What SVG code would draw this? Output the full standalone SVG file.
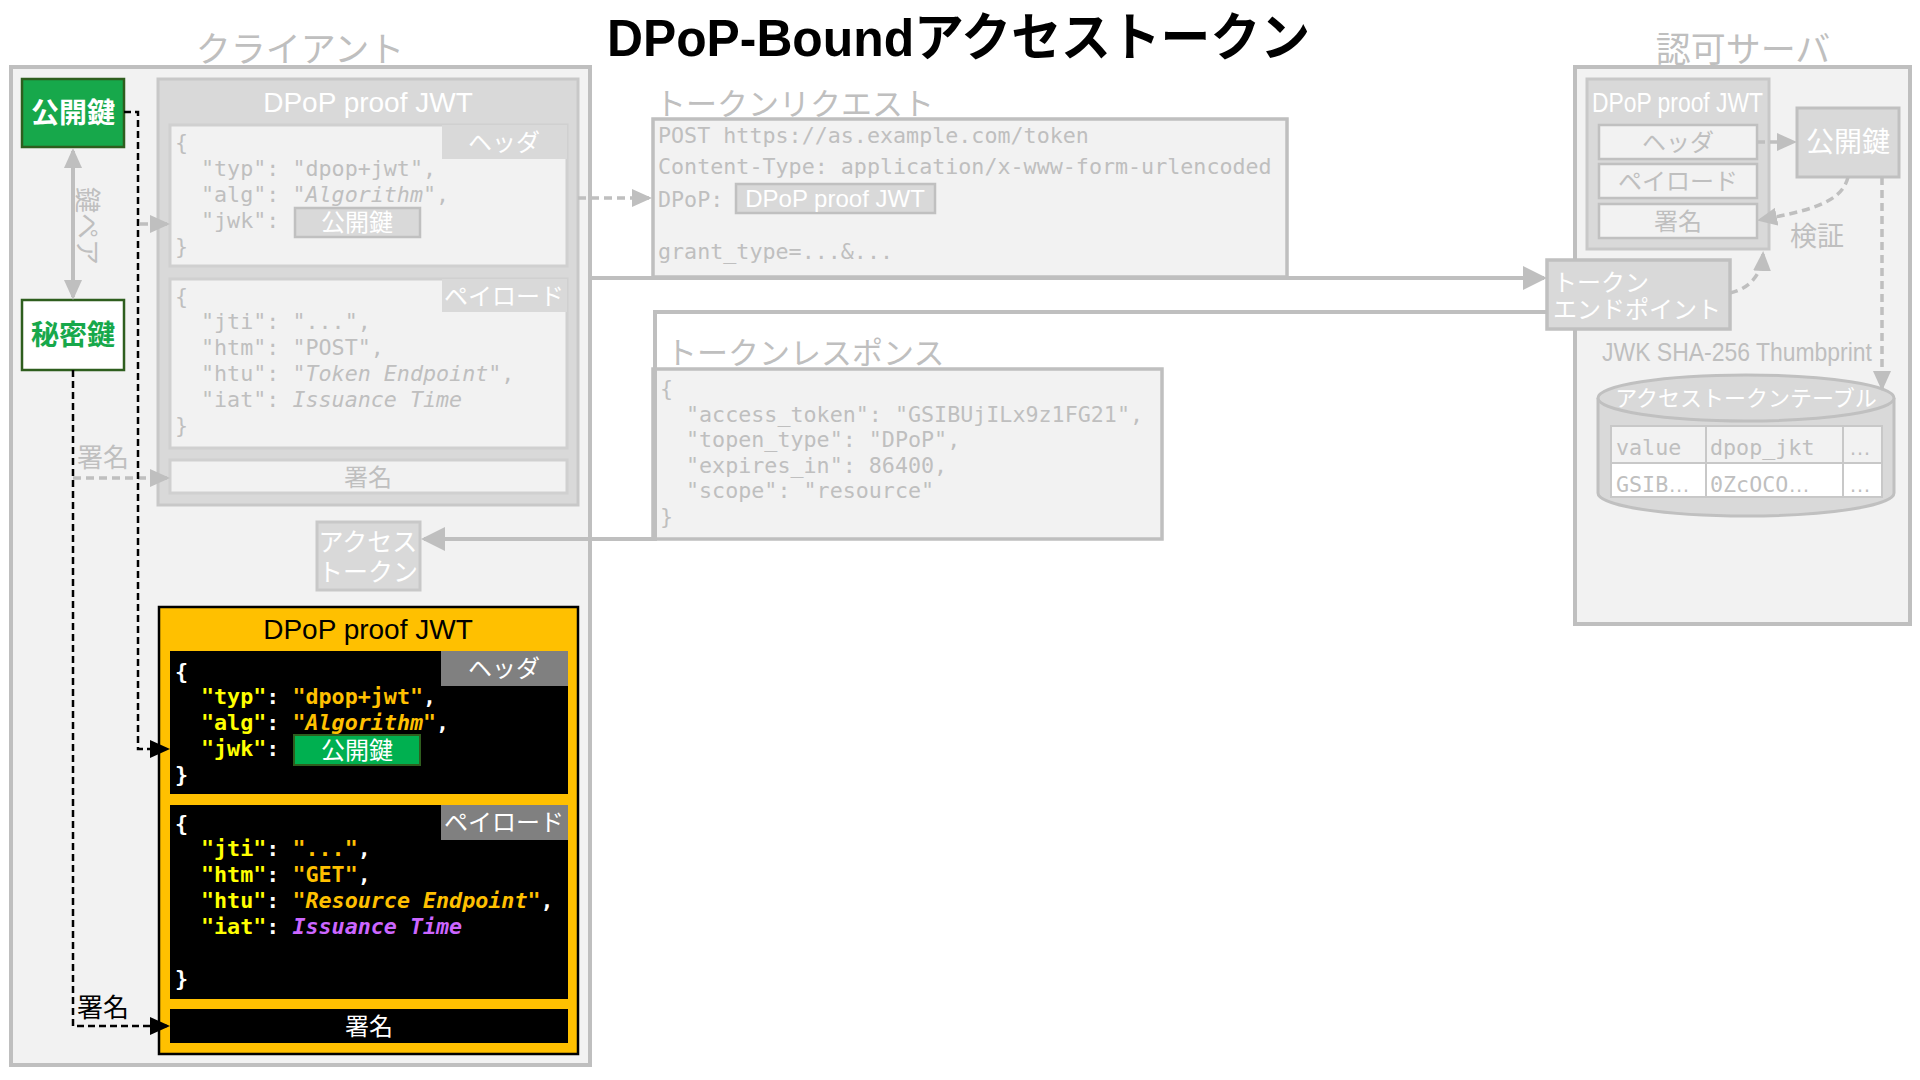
<svg xmlns="http://www.w3.org/2000/svg" width="1920" height="1080" viewBox="0 0 1920 1080">
<style>
.sans{font-family:"Liberation Sans","Noto Sans CJK JP",sans-serif}
.code{font-family:"DejaVu Sans Mono","Liberation Mono","Noto Sans CJK JP",monospace;font-size:21.7px}
.el{font-family:"Liberation Sans",sans-serif}
.gt{fill:#bfbfbf}
.wt{fill:#ffffff}
.it{font-style:italic}
.ky{fill:#ffff00}
.vl{fill:#ffc000}
.pu{fill:#cc66ff}
.mid{text-anchor:middle}
.frame{fill:#f2f2f2;stroke:#bfbfbf;stroke-width:4}
.gbox{fill:#d9d9d9;stroke:#c8c8c8;stroke-width:3}
.sec{fill:#f2f2f2;stroke:#d0d0d0;stroke-width:3}
.cg{fill:none;stroke:#bfbfbf;stroke-width:4}
.cgd{fill:none;stroke:#bfbfbf;stroke-width:3.5;stroke-dasharray:8 5}
.cb{fill:none;stroke:#000000;stroke-width:2.5;stroke-dasharray:7 4}
</style>
<defs>
<marker id="ag" viewBox="0 0 24 24" refX="21" refY="12" markerWidth="24" markerHeight="24" markerUnits="userSpaceOnUse" orient="auto"><path d="M0,0 L24,12 L0,24 Z" fill="#bfbfbf"/></marker>
<marker id="ags" viewBox="0 0 20 18" refX="17" refY="9" markerWidth="20" markerHeight="18" markerUnits="userSpaceOnUse" orient="auto-start-reverse"><path d="M0,0 L20,9 L0,18 Z" fill="#bfbfbf"/></marker>
<marker id="ab" viewBox="0 0 20 18" refX="17" refY="9" markerWidth="20" markerHeight="18" markerUnits="userSpaceOnUse" orient="auto"><path d="M0,0 L20,9 L0,18 Z" fill="#000000"/></marker>
</defs>
<rect width="1920" height="1080" fill="#ffffff"/>

<text id="title" class="sans" x="607" y="56" font-size="52" font-weight="bold" fill="#000000" textLength="703" lengthAdjust="spacingAndGlyphs">DPoP-Boundアクセストークン</text>

<!-- Client -->
<g id="client">
<text class="sans gt mid" x="300" y="62" font-size="35">クライアント</text>
<rect class="frame" x="11" y="67" width="579" height="998"/>
</g>

<g id="client-public-key">
<rect x="22" y="79" width="102" height="68" fill="#17a84b" stroke="#2e5e1e" stroke-width="2.5"/>
<text class="sans wt mid" x="73" y="123" font-size="28" font-weight="bold">公開鍵</text>
</g>

<g id="client-private-key">
<rect x="22" y="300" width="102" height="70" fill="#ffffff" stroke="#2e5e1e" stroke-width="2.5"/>
<text class="sans mid" x="73" y="345" font-size="28" font-weight="bold" fill="#17a84b">秘密鍵</text>
</g>

<g id="client-jwt-old">
<rect class="gbox" x="158" y="79" width="420" height="426"/>
<text class="sans wt mid" x="368" y="112" font-size="28">DPoP proof JWT</text>
<rect class="sec" x="170" y="125" width="397" height="141"/>
<rect x="442" y="125" width="125" height="34" fill="#d9d9d9"/>
<text class="sans wt mid" x="504" y="151" font-size="24">ヘッダ</text>
<text class="code gt" x="175" y="150">{</text>
<text class="code gt" x="201" y="176" xml:space="preserve">"typ": "dpop+jwt",</text>
<text class="code gt" x="201" y="202" xml:space="preserve">"alg": "<tspan class="it">Algorithm</tspan>",</text>
<text class="code gt" x="201" y="228" xml:space="preserve">"jwk":</text>
<text class="code gt" x="175" y="254">}</text>
<rect x="295" y="208" width="125" height="29" fill="#d9d9d9" stroke="#c0c0c0" stroke-width="2.5"/>
<text class="sans wt mid" x="357" y="231" font-size="24">公開鍵</text>
<rect class="sec" x="170" y="279" width="397" height="169"/>
<rect x="442" y="279" width="125" height="33" fill="#d9d9d9"/>
<text class="sans wt mid" x="504" y="305" font-size="24">ペイロード</text>
<text class="code gt" x="175" y="304">{</text>
<text class="code gt" x="201" y="329" xml:space="preserve">"jti": "...",</text>
<text class="code gt" x="201" y="355" xml:space="preserve">"htm": "POST",</text>
<text class="code gt" x="201" y="381" xml:space="preserve">"htu": "<tspan class="it">Token Endpoint</tspan>",</text>
<text class="code gt" x="201" y="407" xml:space="preserve">"iat": <tspan class="it">Issuance Time</tspan></text>
<text class="code gt" x="175" y="433">}</text>
<rect class="sec" x="170" y="460" width="397" height="33"/>
<text class="sans gt mid" x="368" y="486" font-size="24">署名</text>
</g>

<g id="client-access-token">
<rect class="gbox" x="317" y="522" width="103" height="68"/>
<text class="sans wt mid" x="368" y="551" font-size="25">アクセス</text>
<text class="sans wt mid" x="368" y="581" font-size="25">トークン</text>
</g>

<g id="client-jwt-new">
<rect x="159" y="607" width="419" height="447" fill="#ffc000" stroke="#000000" stroke-width="2.5"/>
<text class="sans mid" x="368" y="639" font-size="28" fill="#000000">DPoP proof JWT</text>
<rect x="170" y="651" width="398" height="143" fill="#000000"/>
<rect x="441" y="651" width="127" height="35" fill="#808080"/>
<text class="sans wt mid" x="504" y="677" font-size="24">ヘッダ</text>
<g font-weight="bold">
<text class="code wt" x="175" y="679">{</text>
<text class="code wt" x="201" y="704" xml:space="preserve"><tspan class="ky">"typ"</tspan>: <tspan class="vl">"dpop+jwt"</tspan>,</text>
<text class="code wt" x="201" y="730" xml:space="preserve"><tspan class="ky">"alg"</tspan>: <tspan class="vl">"<tspan class="it">Algorithm</tspan>"</tspan>,</text>
<text class="code wt" x="201" y="756" xml:space="preserve"><tspan class="ky">"jwk"</tspan>:</text>
<text class="code wt" x="175" y="782">}</text>
</g>
<rect x="294" y="735" width="126" height="30" fill="#00b050" stroke="#2e5e1e" stroke-width="2"/>
<text class="sans wt mid" x="357" y="759" font-size="24">公開鍵</text>
<rect x="170" y="805" width="398" height="194" fill="#000000"/>
<rect x="441" y="805" width="127" height="35" fill="#808080"/>
<text class="sans wt mid" x="504" y="831" font-size="24">ペイロード</text>
<g font-weight="bold">
<text class="code wt" x="175" y="831">{</text>
<text class="code wt" x="201" y="856" xml:space="preserve"><tspan class="ky">"jti"</tspan>: <tspan class="vl">"..."</tspan>,</text>
<text class="code wt" x="201" y="882" xml:space="preserve"><tspan class="ky">"htm"</tspan>: <tspan class="vl">"GET"</tspan>,</text>
<text class="code wt" x="201" y="908" xml:space="preserve"><tspan class="ky">"htu"</tspan>: <tspan class="vl">"<tspan class="it">Resource Endpoint</tspan>"</tspan>,</text>
<text class="code wt" x="201" y="934" xml:space="preserve"><tspan class="ky">"iat"</tspan>: <tspan class="pu it">Issuance Time</tspan></text>
<text class="code wt" x="175" y="986">}</text>
</g>
<rect x="170" y="1009" width="398" height="34" fill="#000000"/>
<text class="sans wt mid" x="369" y="1035" font-size="24">署名</text>
</g>

<!-- Token request -->
<g id="token-request">
<text class="sans gt" x="655" y="115" font-size="31">トークンリクエスト</text>
<rect x="653" y="119" width="634" height="158" fill="#f2f2f2" stroke="#bfbfbf" stroke-width="3.5"/>
<text class="code gt" x="658" y="143" font-size="22">POST https://as.example.com/token</text>
<text class="code gt" x="658" y="174" font-size="22">Content-Type: application/x-www-form-urlencoded</text>
<text class="code gt" x="658" y="207" font-size="22">DPoP:</text>
<rect x="736" y="184" width="199" height="29" fill="#d9d9d9" stroke="#c0c0c0" stroke-width="2.5"/>
<text class="sans wt mid" x="835" y="207" font-size="24">DPoP proof JWT</text>
<text class="code gt" x="658" y="259" font-size="22">grant_type=...&amp;...</text>
</g>

<!-- Token response -->
<g id="token-response">
<text class="sans gt" x="666" y="364" font-size="31">トークンレスポンス</text>
<rect x="653" y="369" width="509" height="170" fill="#f2f2f2" stroke="#bfbfbf" stroke-width="3.5"/>
<text class="code gt" x="660" y="396">{</text>
<text class="code gt" x="686" y="422">"access_token": "GSIBUjILx9z1FG21",</text>
<text class="code gt" x="686" y="447">"topen_type": "DPoP",</text>
<text class="code gt" x="686" y="473">"expires_in": 86400,</text>
<text class="code gt" x="686" y="498">"scope": "resource"</text>
<text class="code gt" x="660" y="524">}</text>
</g>

<!-- Authorization server -->
<g id="auth-server">
<text class="sans gt mid" x="1743" y="62" font-size="35">認可サーバ</text>
<rect class="frame" x="1575" y="67" width="335" height="557"/>
</g>

<g id="as-jwt">
<rect class="gbox" x="1587" y="79" width="182" height="170"/>
<text class="sans wt" x="1592" y="112" font-size="27" textLength="171" lengthAdjust="spacingAndGlyphs">DPoP proof JWT</text>
<rect x="1599" y="125" width="158" height="34" fill="#f2f2f2" stroke="#c0c0c0" stroke-width="2.5"/>
<text class="sans gt mid" x="1678" y="151" font-size="24">ヘッダ</text>
<rect x="1599" y="164" width="158" height="34" fill="#f2f2f2" stroke="#c0c0c0" stroke-width="2.5"/>
<text class="sans gt mid" x="1678" y="190" font-size="24">ペイロード</text>
<rect x="1599" y="204" width="158" height="34" fill="#f2f2f2" stroke="#c0c0c0" stroke-width="2.5"/>
<text class="sans gt mid" x="1678" y="230" font-size="24">署名</text>
</g>

<g id="as-public-key">
<rect x="1797" y="108" width="102" height="69" fill="#d9d9d9" stroke="#c0c0c0" stroke-width="3"/>
<text class="sans wt mid" x="1848" y="152" font-size="28">公開鍵</text>
</g>

<g id="token-endpoint">
<rect x="1547" y="260" width="183" height="69" fill="#d9d9d9" stroke="#c0c0c0" stroke-width="3.5"/>
<text class="sans wt" x="1553" y="291" font-size="24">トークン</text>
<text class="sans wt" x="1553" y="318" font-size="24">エンドポイント</text>
</g>

<g id="access-token-table">
<path d="M1598,398 V493 A148,23 0 0 0 1894,493 V398" fill="#d9d9d9" stroke="#c0c0c0" stroke-width="3"/>
<ellipse cx="1746" cy="398" rx="148" ry="23" fill="#d9d9d9" stroke="#c0c0c0" stroke-width="3"/>
<text class="sans wt mid" x="1746" y="406" font-size="22">アクセストークンテーブル</text>
<rect x="1611" y="426" width="271" height="37" fill="#f2f2f2"/>
<rect x="1611" y="463" width="271" height="34" fill="#ffffff"/>
<path d="M1611,426 H1882 V497 H1611 Z M1611,463 H1882 M1706,426 V497 M1843,426 V497" fill="none" stroke="#c8c8c8" stroke-width="2"/>
<text class="code gt" x="1616" y="455" font-size="23.5">value</text>
<text class="code gt" x="1710" y="455" font-size="23.5">dpop_jkt</text>
<text class="el gt" x="1849" y="455" font-size="22">…</text>
<text class="code gt" x="1616" y="492" font-size="23.5">GSIB<tspan class="el">…</tspan></text>
<text class="code gt" x="1710" y="492" font-size="23.5">0ZcOCO<tspan class="el">…</tspan></text>
<text class="el gt" x="1849" y="492" font-size="22">…</text>
</g>

<!-- Connectors -->
<g id="connectors">
<path class="cg" d="M73,151 V297" stroke-width="3.5" marker-start="url(#ags)" marker-end="url(#ags)"/>
<text class="sans gt mid" font-size="26" transform="translate(78,226) rotate(90)">鍵ペア</text>
<path class="cgd" d="M140,224 H167" marker-end="url(#ags)"/>
<path class="cgd" d="M73,478 H167" marker-end="url(#ags)"/>
<text class="sans gt mid" x="103" y="467" font-size="26">署名</text>
<path class="cb" d="M124,112 H138 V749 H167" marker-end="url(#ab)"/>
<path class="cb" d="M73,370 V1026 H167" marker-end="url(#ab)"/>
<text class="sans mid" x="103" y="1017" font-size="26" fill="#000000">署名</text>
<path class="cgd" d="M578,198 H649" marker-end="url(#ags)"/>
<path class="cg" d="M590,278 H1544" marker-end="url(#ag)"/>
<path class="cg" d="M1547,312 H655 V539 H424" marker-end="url(#ag)"/>
<path class="cgd" d="M1757,142 H1794" marker-end="url(#ags)"/>
<path class="cgd" d="M1848,177 C1842,205 1800,212 1760,220" marker-end="url(#ags)"/>
<text class="sans gt mid" x="1817" y="246" font-size="27">検証</text>
<path class="cgd" d="M1730,293 C1752,288 1762,272 1763,254" marker-end="url(#ags)"/>
<path class="cgd" d="M1882,177 V388" marker-end="url(#ags)"/>
<text class="sans gt" x="1602" y="361" font-size="25" textLength="270" lengthAdjust="spacingAndGlyphs">JWK SHA-256 Thumbprint</text>
</g>
</svg>
